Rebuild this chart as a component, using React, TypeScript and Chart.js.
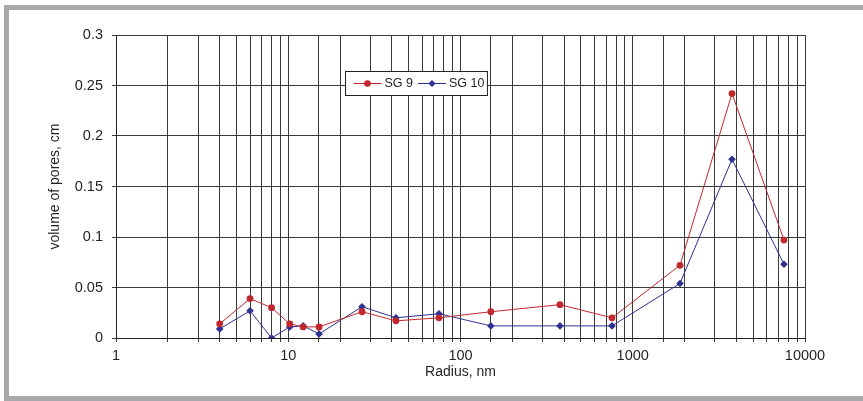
import React, { useEffect, useRef } from "react";
import { Chart, registerables } from "chart.js";

Chart.register(...registerables);

// Radius, nm
const radius = [4, 6, 8, 10.2, 12.2, 15.1, 26.8, 42.2, 75, 150, 378, 758, 1880, 3770, 7550];
// volume of pores, cm
const sg9 = [0.014, 0.039, 0.030, 0.014, 0.011, 0.011, 0.026, 0.017, 0.020, 0.026, 0.033, 0.020, 0.072, 0.242, 0.097];
const sg10 = [0.009, 0.027, 0.000, 0.011, 0.012, 0.004, 0.031, 0.020, 0.024, 0.012, 0.012, 0.012, 0.054, 0.177, 0.073];
const seriesLabels = ["SG 9", "SG 10"];
const yTicks = [0, 0.05, 0.1, 0.15, 0.2, 0.25, 0.3];
const xTickLabels = [1, 10, 100, 1000, 10000];

const RED = "#c1272d";
const BLUE = "#2e3192";
const FONT = "'Liberation Sans', Arial, sans-serif";

const boxLegend = {
  id: "boxLegend",
  afterDraw(chart: any) {
    const ctx = chart.ctx;
    ctx.save();
    const x0 = 345.5, y0 = 71.5, h = 24;
    ctx.font = `12.5px ${FONT}`;
    const items = chart.data.datasets.map((d: any) => ({
      label: d.label,
      color: d.borderColor,
      style: d.pointStyle,
    }));
    const lineW = 28, gapText = 3, gapItem = 5, padL = 8, padR = 3;
    let total = padL;
    items.forEach((it: any, i: number) => {
      total += lineW + gapText + ctx.measureText(it.label).width + (i < items.length - 1 ? gapItem : 0);
    });
    total += padR;
    ctx.fillStyle = "#ffffff";
    ctx.fillRect(x0, y0, total, h);
    ctx.strokeStyle = "#231f20";
    ctx.lineWidth = 1;
    ctx.strokeRect(x0, y0, total, h);
    let x = x0 + padL;
    const cy = y0 + h / 2;
    items.forEach((it: any) => {
      ctx.strokeStyle = it.color;
      ctx.fillStyle = it.color;
      ctx.lineWidth = 1;
      ctx.beginPath();
      ctx.moveTo(x, cy);
      ctx.lineTo(x + lineW, cy);
      ctx.stroke();
      const mx = x + lineW / 2;
      ctx.beginPath();
      if (it.style === "circle") {
        ctx.arc(mx, cy, 3.3, 0, Math.PI * 2);
      } else {
        const r = 3.6;
        ctx.moveTo(mx, cy - r);
        ctx.lineTo(mx + r, cy);
        ctx.lineTo(mx, cy + r);
        ctx.lineTo(mx - r, cy);
        ctx.closePath();
      }
      ctx.fill();
      x += lineW + gapText;
      ctx.fillStyle = "#231f20";
      ctx.textBaseline = "middle";
      ctx.textAlign = "left";
      ctx.fillText(it.label, x, cy + 0.5);
      x += ctx.measureText(it.label).width + gapItem;
    });
    ctx.restore();
  },
};

export default function App() {
  const canvasRef = useRef<HTMLCanvasElement | null>(null);

  useEffect(() => {
    const canvas = canvasRef.current;
    if (!canvas) return;
    const toPts = (ys: number[]) => radius.map((x, i) => ({ x, y: ys[i] }));
    const chart = new Chart(canvas, {
      type: "line",
      data: {
        datasets: [
          {
            label: seriesLabels[0],
            data: toPts(sg9),
            borderColor: RED,
            backgroundColor: RED,
            borderWidth: 1,
            pointStyle: "circle",
            pointRadius: 3.4,
            pointBorderWidth: 0,
            tension: 0,
          },
          {
            label: seriesLabels[1],
            data: toPts(sg10),
            borderColor: BLUE,
            backgroundColor: BLUE,
            borderWidth: 1,
            pointStyle: "rectRot",
            pointRadius: 3.8,
            pointBorderWidth: 0,
            tension: 0,
          },
        ],
      },
      options: {
        animation: false,
        responsive: false,
        devicePixelRatio: 1,
        layout: { padding: { left: 0, top: 35, right: 58, bottom: 0 } },
        plugins: {
          legend: { display: false },
          tooltip: { enabled: false },
        },
        scales: {
          x: {
            type: "logarithmic",
            min: 1,
            max: 10000,
            afterFit(scale: any) {
              scale.height = 63;
            },
            grid: {
              color: "#3a3a3a",
              lineWidth: 1,
              tickLength: 4,
              tickColor: "#3a3a3a",
            },
            border: { color: "#231f20", width: 1 },
            ticks: {
              autoSkip: false,
              maxRotation: 0,
              padding: 5,
              color: "#231f20",
              font: { family: FONT, size: 14.5 },
              callback: (v: any) => (xTickLabels.includes(Number(v)) ? String(v) : ""),
            },
            title: {
              display: true,
              text: "Radius, nm",
              color: "#231f20",
              font: { family: FONT, size: 14 },
              padding: { top: 0, bottom: 20 },
            },
          },
          y: {
            type: "linear",
            min: 0,
            max: 0.3,
            afterFit(scale: any) {
              scale.width = 116;
            },
            afterBuildTicks(scale: any) {
              scale.ticks = yTicks.map((value) => ({ value }));
            },
            grid: {
              color: "#3a3a3a",
              lineWidth: 1,
              tickLength: 4,
              tickColor: "#3a3a3a",
            },
            border: { color: "#231f20", width: 1 },
            ticks: {
              padding: 9,
              color: "#231f20",
              font: { family: FONT, size: 14.5 },
              callback: (v: any) => String(Number(Number(v).toFixed(2))),
            },
            title: {
              display: true,
              text: "volume of pores, cm",
              color: "#231f20",
              font: { family: FONT, size: 14 },
              padding: { top: 47, bottom: 0 },
            },
          },
        },
      },
      plugins: [boxLegend],
    });
    return () => chart.destroy();
  }, []);

  return (
    <div
      style={{
        position: "absolute",
        left: 0,
        top: 0,
        width: 863,
        height: 401,
        overflow: "hidden",
        background: "#ffffff",
      }}
    >
      <div
        style={{
          position: "absolute",
          left: 4,
          top: 5,
          width: 880,
          height: 386,
          border: "5px solid #a7a9ac",
        }}
      />
      <canvas
        ref={canvasRef}
        width={863}
        height={401}
        style={{ position: "absolute", left: 0, top: 0, width: 863, height: 401 }}
      />
    </div>
  );
}
